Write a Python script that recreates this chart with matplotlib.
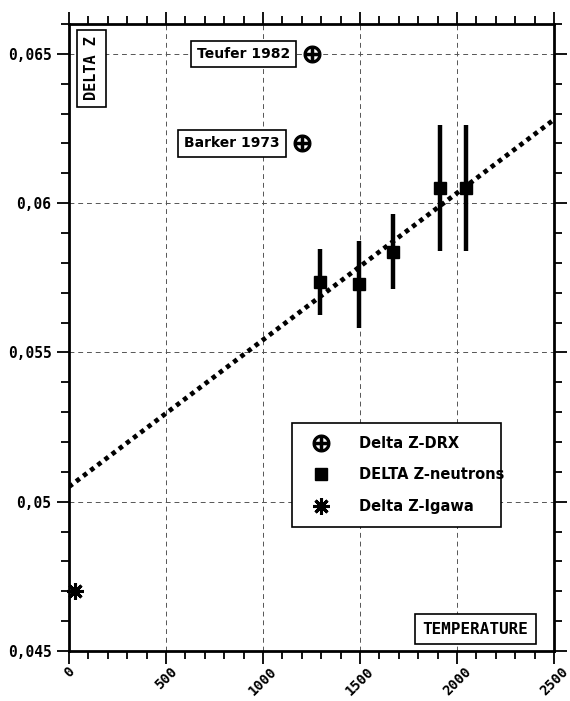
import matplotlib
matplotlib.use("Agg")
import matplotlib.pyplot as plt
import numpy as np
from matplotlib.ticker import MultipleLocator, FuncFormatter
from matplotlib.lines import Line2D

# ---- data ----
neutron_T = [1295, 1495, 1670, 1910, 2045]
neutron_dz = [0.05737, 0.05728, 0.05838, 0.06050, 0.06050]
neutron_err = [0.00110, 0.00145, 0.00126, 0.00210, 0.00210]

drx_T = [1250, 1200]
drx_dz = [0.0650, 0.0620]
drx_labels = ["Teufer 1982", "Barker 1973"]

igawa_T = [30]
igawa_dz = [0.0470]

fit_intercept = 0.05050
fit_slope = 4.92e-6
fit_T_range = [0, 2500]

x_ticks = [0, 500, 1000, 1500, 2000, 2500]
y_ticks = [0.045, 0.05, 0.055, 0.06, 0.065]

legend_labels = ["Delta Z-DRX", "DELTA Z-neutrons", "Delta Z-Igawa"]

# ---- figure ----
fig = plt.figure(figsize=(5.70, 7.01), dpi=100)
ax = fig.add_axes([0.121, 0.0713, 0.851, 0.8945])

BOLD = dict(family="DejaVu Sans", fontweight="bold")
MONO = dict(family="DejaVu Sans Mono", fontweight="bold")

ax.set_xlim(0, 2500)
ax.set_ylim(0.045, 0.066)

ax.grid(True, which="major", linestyle=(0, (5, 4)), color="#555555", linewidth=0.7)
ax.set_axisbelow(True)

# fit line
fx = np.array(fit_T_range, dtype=float)
ax.plot(fx, fit_intercept + fit_slope * fx, color="black", linewidth=3.4,
        linestyle=(0, (0.95, 0.95)), dash_capstyle="butt", zorder=3)

# neutrons
ax.errorbar(neutron_T, neutron_dz, yerr=neutron_err, fmt="s", color="black",
            markersize=9, elinewidth=3.2, capsize=0, zorder=4)

# DRX
drx_marker = dict(linestyle="none", marker=r"$\oplus$", markersize=12, color="black")
ax.plot(drx_T, drx_dz, zorder=4, **drx_marker)

# Igawa
igawa_marker = dict(linestyle="none", marker=(8, 2, 0), markersize=12,
                    markeredgewidth=2.2, color="black")
ax.plot(igawa_T, igawa_dz, zorder=4, clip_on=False, **igawa_marker)

# annotations
box = dict(boxstyle="square,pad=0.45", facecolor="white", edgecolor="black", linewidth=1.2)
ax.text(1140, drx_dz[0], drx_labels[0], ha="right", va="center", fontsize=10, bbox=box, **BOLD)
ax.text(1085, drx_dz[1], drx_labels[1], ha="right", va="center", fontsize=10, bbox=box, **BOLD)
ax.text(0.047, 0.98, "DELTA Z", transform=ax.transAxes, rotation=90, ha="center",
        va="top", fontsize=11, bbox=box, **MONO)
ax.text(0.947, 0.035, "TEMPERATURE", transform=ax.transAxes, ha="right", va="center",
        fontsize=11.5, bbox=dict(boxstyle="square,pad=0.45", facecolor="white",
                                 edgecolor="black", linewidth=1.2), **MONO)

# legend (proxy handles)
handles = [Line2D([], [], **drx_marker),
           Line2D([], [], linestyle="none", marker="s", markersize=8, color="black"),
           Line2D([], [], **igawa_marker)]
leg = ax.legend(handles, legend_labels,
                loc="upper left", bbox_to_anchor=(0.445, 0.195, 0.46, 0.181),
                mode="expand", frameon=True, fancybox=False, framealpha=1,
                edgecolor="black", prop=dict(family="DejaVu Sans", weight="bold", size=10.5),
                labelspacing=1.15, borderpad=0.9, handletextpad=1.5, handlelength=2.2)
leg.get_frame().set_linewidth(1.2)

# ticks
ax.set_xticks(x_ticks)
ax.set_yticks(y_ticks)
ax.xaxis.set_minor_locator(MultipleLocator(100))
ax.yaxis.set_minor_locator(MultipleLocator(0.001))
ax.tick_params(which="both", direction="out", top=True, right=True, width=1.3)
ax.tick_params(which="major", length=9)
ax.tick_params(which="minor", length=6)
ax.tick_params(axis="x", which="major", pad=0.5)
ax.yaxis.set_major_formatter(FuncFormatter(lambda v, p: ("%g" % round(v, 4)).replace(".", ",")))
ax.xaxis.set_major_formatter(FuncFormatter(lambda v, p: "%d" % v))
for lab in ax.get_xticklabels():
    lab.set_rotation(45)
    lab.set_ha("center")
    lab.set_va("top")
    lab.set_fontsize(10)
for lab in ax.get_yticklabels():
    lab.set_fontsize(10.5)
for lab in ax.get_xticklabels() + ax.get_yticklabels():
    lab.set_family("DejaVu Sans Mono")
    lab.set_fontweight("bold")

for s in ax.spines.values():
    s.set_linewidth(2.0)

fig.savefig("out.png", dpi=100, facecolor="white")
